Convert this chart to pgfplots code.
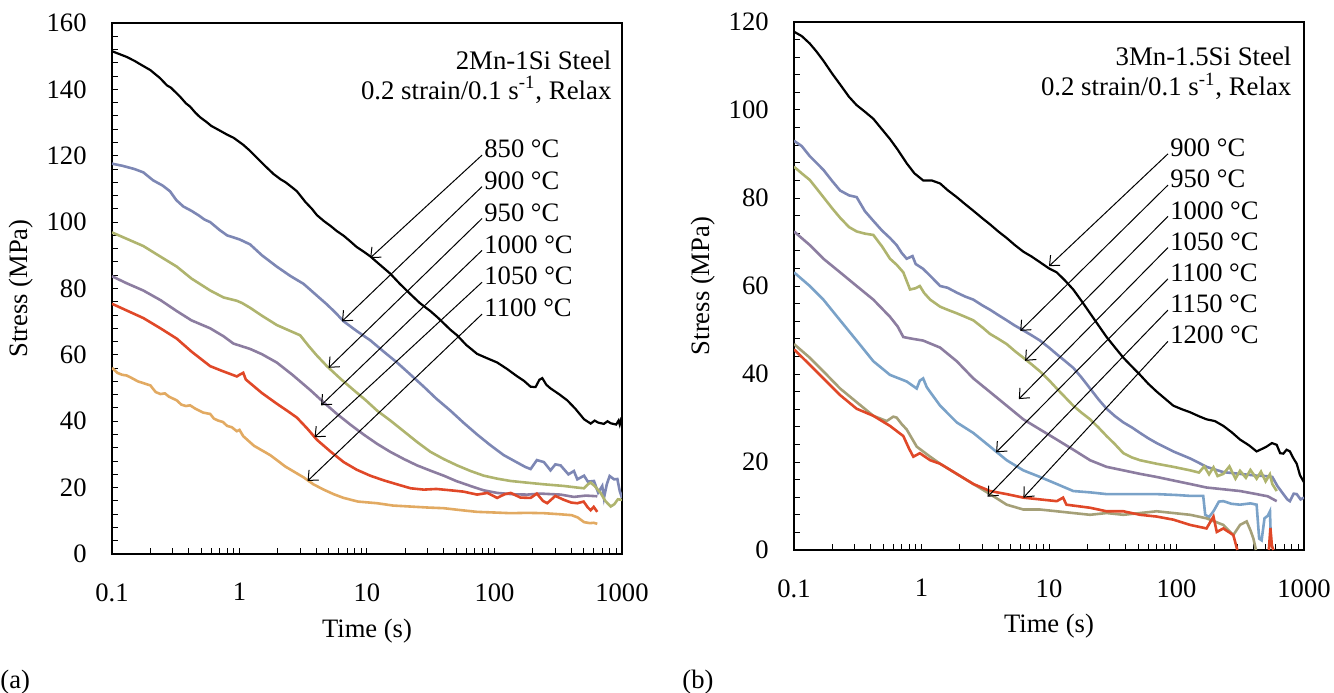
\documentclass[border=0pt]{standalone}
\usepackage{fontspec}
\setmainfont{Liberation Serif}
\usepackage{pgfplots}
\pgfplotsset{compat=1.18}
\usetikzlibrary{arrows.meta}
\definecolor{cblue}{RGB}{125,135,180}
\definecolor{colive}{RGB}{175,180,110}
\definecolor{cpurple}{RGB}{140,125,160}
\definecolor{cred}{RGB}{224,72,40}
\definecolor{ctan}{RGB}{226,170,98}
\definecolor{clblue}{RGB}{122,162,200}
\definecolor{cgreen}{RGB}{165,160,120}
\tikzset{
  tl/.style={anchor=west, inner sep=0pt, font=\fontsize{13.3}{15}\selectfont},
  ann/.style={anchor=east, inner sep=0pt, font=\fontsize{13.4}{15}\selectfont},
  arr/.style={-{Straight Barb[length=4pt,width=7pt]}, line width=0.5pt, black},
  bl/.style={black, line width=1.1pt},
  cl/.style={line width=1.3pt},
}
\begin{document}
\begin{tikzpicture}
\useasboundingbox (0,0) rectangle (667pt,346pt);
% ---------------- panel (a)
\begin{axis}[
    at={(56pt,69pt)}, anchor=south west,
    scale only axis, width=255pt, height=265.5pt,
    xmode=log, xmin=0.1, xmax=1000, ymin=0, ymax=160,
    xtick={0.1,1,10,100,1000}, xticklabels={0.1,1,10,100,1000},
    minor xtick={0.2,0.3,0.4,0.5,0.6,0.7,0.8,0.9,2,3,4,5,6,7,8,9,20,30,40,50,60,70,80,90,200,300,400,500,600,700,800,900},
    ytick={0,20,...,160}, minor y tick num=4,
    tick align=inside, xtick pos=left, ytick pos=left,
    major tick length=3pt, minor tick length=3pt,
    tick style={black, line width=0.5pt},
    axis line style={black, line width=0.6pt},
    tick label style={font=\fontsize{13.3}{15}\selectfont, inner sep=0pt},
    xticklabel style={yshift=-14.5pt},
    yticklabel style={xshift=-12.5pt},
    /pgf/number format/assume math mode=true,
    xlabel={Time (s)}, ylabel={Stress (MPa)},
    xlabel style={font=\fontsize{13.3}{15}\selectfont, at={(axis description cs:0.5,-0.145)}, anchor=center},
    ylabel style={font=\fontsize{13.3}{15}\selectfont, at={(axis description cs:-0.178,0.5)}, anchor=center},
    no markers, unbounded coords=jump]
\addplot[bl] coordinates {(0.1,151.5)(0.115,150.6)(0.13,149.8)(0.15,148.6)(0.166,147.6)(0.2,145.8)(0.238,143.4)(0.27,141.2)(0.29,140.5)(0.342,137.8)(0.38,135.8)(0.41,134.8)(0.45,133.0)(0.491,131.6)(0.55,130.2)(0.6,129)(0.7,127.6)(0.796,126.4)(0.9,125.4)(1.07,123.3)(1.2,121.6)(1.4,119)(1.6,116.8)(1.85,114.5)(2.1,112.9)(2.3,112)(2.6,110.4)(2.82,109.3)(3.3,106)(3.7,104)(4.05,102.1)(4.6,100.3)(5.2,98.8)(5.8,97.3)(6.56,95.9)(7.4,94.2)(8.3,92.5)(9.5,91)(10.6,89.7)(12.5,87.3)(15.2,84.5)(18,81.5)(21.9,78.3)(26,75.6)(31.4,73.2)(36,71.2)(40,69.5)(45,67.6)(50.9,65.9)(60,63)(73.1,60.3)(85,59.2)(105,57.7)(125,55.8)(151,53.5)(170,52.2)(192,50.4)(210,50.3)(225,52.5)(237,53.0)(255,51)(275,49.9)(320,48.2)(372,46.3)(430,43.8)(504,40.6)(568,39.3)(610,40.2)(650,39.6)(720,39.2)(770,40.0)(815,39.4)(900,39.0)(940,40.2)(960,39.0)(980,40.3)(1000,39.5)};
\addplot[cl, cblue] coordinates {(0.1,117.6)(0.12,117.0)(0.15,116.0)(0.176,115.0)(0.21,112.6)(0.25,111.0)(0.285,109.3)(0.32,106.6)(0.363,104.7)(0.42,103.4)(0.48,102.0)(0.53,100.8)(0.589,100.0)(0.7,97.6)(0.8,96.0)(0.897,95.4)(1.0,94.8)(1.21,93.3)(1.5,90.0)(1.96,86.6)(2.5,83.8)(3.18,81.4)(3.9,78.4)(4.85,75.2)(5.7,72.6)(6.56,70.1)(8.3,67.2)(10.6,64.4)(13.5,61.0)(17.2,57.7)(22,54.0)(27.9,50.4)(35,46.8)(45.1,43.2)(57,39.6)(73.1,36.0)(92,32.9)(118,29.8)(150,27.6)(175,26.2)(192,25.6)(215,28.3)(244,27.7)(275,25.2)(300,27.0)(330,26.7)(380,24.0)(420,25.0)(446,22.5)(504,23.6)(540,21.8)(603,22.0)(650,18.5)(700,20.5)(722,16.9)(760,21.0)(800,23.5)(866,22.5)(920,22.6)(960,19.0)(1000,16.9)};
\addplot[cl, colive] coordinates {(0.1,96.9)(0.13,95.0)(0.176,92.8)(0.24,89.6)(0.322,86.6)(0.42,83.0)(0.589,79.4)(0.75,77.3)(0.953,76.3)(1.05,75.6)(1.21,74.2)(1.5,71.8)(1.96,69.0)(2.5,67.2)(2.99,65.9)(3.5,62.6)(4.0,60.0)(4.85,56.6)(6.2,52.8)(7.86,49.4)(9.8,46.3)(12,43.2)(15.5,40.0)(19.4,37.0)(25,33.6)(31.4,30.8)(40,28.6)(50.9,26.7)(65,25.0)(82.4,23.6)(105,22.7)(134,22.0)(180,21.5)(244,21.0)(350,20.5)(450,20.0)(504,19.8)(540,21.0)(568,21.5)(610,20.5)(679,18.4)(740,16.0)(815,14.3)(870,15.0)(930,16.5)(1000,16.3)};
\addplot[cl, cpurple] coordinates {(0.1,83.7)(0.13,81.6)(0.176,79.4)(0.24,76.5)(0.322,73.2)(0.42,70.4)(0.589,68.0)(0.75,65.6)(0.897,63.4)(1.21,61.8)(1.5,60.2)(1.96,57.7)(2.6,54.0)(3.59,49.4)(4.6,45.6)(5.81,42.2)(7.4,39.0)(9.41,36.0)(12,33.2)(15.2,30.8)(19.5,28.6)(24.7,26.7)(32,25.0)(40,23.6)(50,22.0)(64.8,20.5)(82,19.2)(105,18.4)(140,18.0)(181,17.9)(230,18.2)(330,17.9)(420,17.2)(520,17.6)(640,17.4)};
\addplot[cl, cred] coordinates {(0.1,75.4)(0.13,73.4)(0.176,71.1)(0.24,68.0)(0.322,64.9)(0.42,61.0)(0.589,56.6)(0.75,55.0)(0.953,53.5)(1.0,54.0)(1.07,54.6)(1.12,52.6)(1.21,51.5)(1.5,48.5)(1.96,45.3)(2.4,43.0)(2.82,41.1)(3.4,37.8)(4.05,34.4)(5.2,30.8)(6.56,27.7)(8.3,25.4)(10.6,23.6)(13.5,22.2)(17.2,21.0)(22,19.8)(27.9,19.4)(35,19.6)(45.1,19.2)(57,18.8)(73.1,17.9)(88,18.4)(105,16.9)(120,18.0)(134,18.4)(160,17.0)(192,16.9)(215,18.2)(240,16.0)(259,15.3)(300,17.5)(351,16.3)(400,15.5)(446,15.3)(500,15.8)(540,14.0)(568,13.2)(600,14.2)(640,12.7)};
\addplot[cl, ctan] coordinates {(0.1,56.1)(0.11,54.6)(0.12,54.0)(0.13,53.8)(0.14,53.2)(0.16,52.0)(0.176,51.5)(0.2,50.8)(0.22,48.8)(0.24,48.2)(0.26,48.4)(0.28,47.4)(0.322,46.3)(0.35,45.0)(0.38,44.6)(0.41,44.8)(0.45,43.8)(0.52,42.6)(0.589,42.2)(0.63,40.8)(0.68,40.2)(0.74,39.8)(0.8,38.6)(0.87,38.2)(0.953,37.0)(1.0,37.4)(1.07,35.5)(1.3,32.6)(1.74,29.8)(2.3,26.3)(3.18,23.1)(3.8,21.0)(4.57,19.4)(5.5,18.0)(6.56,16.9)(8.5,15.8)(12,15.3)(16,14.6)(21.9,14.3)(30,14.0)(40,13.8)(55,13.2)(73,12.7)(100,12.5)(134,12.3)(180,12.4)(244,12.3)(320,12.0)(403,11.7)(450,11.0)(504,9.6)(560,9.3)(600,9.4)(640,9.1)};
\node[ann] at (axis description cs:0.980,0.930) {2Mn-1Si Steel};
\node[ann] at (axis description cs:0.980,0.874) {0.2 strain/0.1 s\textsuperscript{-1}, Relax};
\node[tl] (a1) at (axis cs:82.8,122.0) {850 °C};
\node[tl] (a2) at (axis cs:82.8,112.5) {900 °C};
\node[tl] (a3) at (axis cs:82.8,102.9) {950 °C};
\node[tl] (a4) at (axis cs:82.8,93.3) {1000 °C};
\node[tl] (a5) at (axis cs:82.8,83.7) {1050 °C};
\node[tl] (a6) at (axis cs:82.8,74.1) {1100 °C};
\draw[arr] ([xshift=-1pt,yshift=-3pt]a1.west) -- (axis cs:10.6,89.2);
\draw[arr] ([xshift=-1pt,yshift=-3pt]a2.west) -- (axis cs:6.37,70.1);
\draw[arr] ([xshift=-1pt,yshift=-3pt]a3.west) -- (axis cs:5.0,56.1);
\draw[arr] ([xshift=-1pt,yshift=-3pt]a4.west) -- (axis cs:4.36,44.8);
\draw[arr] ([xshift=-1pt,yshift=-3pt]a5.west) -- (axis cs:3.88,35.2);
\draw[arr] ([xshift=-1pt,yshift=-3pt]a6.west) -- (axis cs:3.42,22.0);
\end{axis}
% ---------------- panel (b)
\begin{axis}[
    at={(397pt,71pt)}, anchor=south west,
    scale only axis, width=255pt, height=264pt,
    xmode=log, xmin=0.1, xmax=1000, ymin=0, ymax=120,
    xtick={0.1,1,10,100,1000}, xticklabels={0.1,1,10,100,1000},
    minor xtick={0.2,0.3,0.4,0.5,0.6,0.7,0.8,0.9,2,3,4,5,6,7,8,9,20,30,40,50,60,70,80,90,200,300,400,500,600,700,800,900},
    ytick={0,20,...,120}, minor y tick num=4,
    tick align=inside, xtick pos=left, ytick pos=left,
    major tick length=3pt, minor tick length=3pt,
    tick style={black, line width=0.5pt},
    axis line style={black, line width=0.6pt},
    tick label style={font=\fontsize{13.3}{15}\selectfont, inner sep=0pt},
    xticklabel style={yshift=-14.5pt},
    yticklabel style={xshift=-12.5pt},
    /pgf/number format/assume math mode=true,
    xlabel={Time (s)}, ylabel={Stress (MPa)},
    xlabel style={font=\fontsize{13.3}{15}\selectfont, at={(axis description cs:0.5,-0.145)}, anchor=center},
    ylabel style={font=\fontsize{13.3}{15}\selectfont, at={(axis description cs:-0.178,0.5)}, anchor=center},
    no markers, unbounded coords=jump]
\addplot[bl] coordinates {(0.1,117.8)(0.115,116.8)(0.133,115.1)(0.15,113.3)(0.17,111.2)(0.2,108.2)(0.23,105.8)(0.27,103.0)(0.31,101.1)(0.36,99.6)(0.419,98.0)(0.49,95.6)(0.566,93.4)(0.65,91.0)(0.765,87.9)(0.88,85.6)(1.03,84.0)(1.2,84.0)(1.4,83.3)(1.6,81.8)(1.89,80.2)(2.2,78.6)(2.55,77.1)(3.0,75.4)(3.45,74.0)(4.0,72.4)(4.66,70.9)(5.4,69.3)(6.29,67.8)(7.3,66.7)(8.5,65.4)(10,64.0)(11.5,63.1)(13.3,61.3)(15.5,59.2)(18,56.6)(21,53.8)(24.5,51.0)(28.3,48.4)(33,46.0)(38.3,43.7)(45,41.6)(51.8,39.8)(60,37.8)(69.9,36.0)(82,34.3)(94.4,32.8)(110,32.0)(128,31.3)(150,30.4)(172,29.7)(200,29.3)(233,28.2)(270,26.8)(315,25.1)(370,23.8)(425,22.4)(470,23.0)(509,23.5)(560,24.3)(611,23.9)(650,22.0)(689,21.9)(730,22.8)(776,22.4)(820,21.0)(877,19.6)(930,17.0)(1000,15.4)};
\addplot[cl, cblue] coordinates {(0.1,93.0)(0.115,91.8)(0.133,89.5)(0.15,88.0)(0.17,86.4)(0.2,83.8)(0.23,81.7)(0.27,80.6)(0.31,80.2)(0.36,77.0)(0.419,74.8)(0.49,72.6)(0.566,70.9)(0.638,69.3)(0.7,67.5)(0.765,66.2)(0.85,66.8)(0.9,65.0)(1.03,63.9)(1.2,62.0)(1.4,60.0)(1.6,59.6)(1.89,58.5)(2.2,57.6)(2.55,56.9)(3.0,55.6)(3.45,54.6)(4.0,53.4)(4.66,52.2)(5.4,51.0)(6.29,49.9)(7.3,48.8)(8.5,47.6)(10,46.0)(11.5,44.5)(13.3,43.0)(15.5,41.4)(18,39.2)(21,36.7)(24.5,34.2)(28.3,32.1)(33,30.4)(38.3,29.0)(45,27.8)(51.8,26.6)(60,25.4)(69.9,24.3)(82,23.3)(94.4,22.4)(110,21.6)(128,20.8)(150,19.8)(172,18.9)(200,18.3)(233,17.7)(315,17.3)(425,16.9)(500,16.8)(564,16.6)(620,14.5)(689,12.7)(740,11.5)(776,11.1)(830,12.8)(877,12.7)(940,11.5)(1000,11.9)};
\addplot[cl, colive] coordinates {(0.1,87.1)(0.115,85.6)(0.133,84.1)(0.15,82.2)(0.17,80.2)(0.2,77.6)(0.23,75.5)(0.27,73.4)(0.31,72.4)(0.36,71.9)(0.419,71.6)(0.49,69.0)(0.566,66.2)(0.64,64.8)(0.72,63.1)(0.813,59.2)(0.9,59.5)(0.97,60.0)(1.05,58.4)(1.17,56.9)(1.4,55.3)(1.6,54.6)(1.89,53.8)(2.2,53.0)(2.55,52.2)(3.0,50.6)(3.45,49.1)(4.0,48.0)(4.66,46.8)(5.4,45.2)(6.29,43.7)(7.3,42.2)(8.5,40.6)(10,38.6)(11.5,36.7)(13.3,34.8)(15.5,32.8)(18,31.2)(21,29.7)(24.5,27.8)(28.3,25.9)(33,24.0)(38.3,22.0)(45,21.0)(51.8,20.4)(69.9,19.6)(94.4,18.9)(128,18.1)(150,17.6)(165,19.0)(180,17.2)(195,18.8)(210,16.8)(233,17.3)(260,19.0)(290,16.2)(315,18.0)(350,16.4)(380,18.2)(425,16.2)(460,17.8)(500,15.6)(540,17.2)(564,15.0)(611,13.4)};
\addplot[cl, cpurple] coordinates {(0.1,72.4)(0.133,69.3)(0.17,66.2)(0.23,63.1)(0.31,60.0)(0.419,56.9)(0.566,53.0)(0.65,50.8)(0.72,48.4)(0.85,48.0)(1.03,47.6)(1.4,46.0)(1.89,42.9)(2.55,39.0)(3.45,35.9)(4.66,32.8)(6.29,29.7)(8.5,27.4)(11.5,25.1)(15.5,22.8)(21,20.4)(28.3,18.9)(38.3,18.1)(51.8,17.3)(69.9,16.6)(94.4,15.8)(128,15.0)(172,14.2)(233,13.8)(315,13.4)(425,12.7)(520,12.2)(611,11.1)};
\addplot[cl, clblue] coordinates {(0.1,63.1)(0.133,60.0)(0.17,56.9)(0.23,52.2)(0.31,47.6)(0.419,42.9)(0.566,39.8)(0.765,38.3)(0.917,36.7)(0.97,38.5)(1.03,39.0)(1.1,37.0)(1.17,35.9)(1.4,32.8)(1.89,29.0)(2.55,26.6)(3.45,23.5)(4.66,20.4)(6.29,18.1)(8.5,16.6)(11.5,15.0)(15.5,13.4)(21,13.1)(28.3,12.7)(50,12.7)(69.9,12.7)(100,12.5)(128,12.3)(162,12.3)(168,8.0)(180,7.5)(195,8.8)(215,11.0)(233,11.1)(270,10.5)(315,10.3)(380,10.6)(425,10.3)(445,2.6)(465,2.2)(490,7.2)(520,7.8)(541,8.8)(550,1.8)(564,0.5)};
\addplot[cl, cgreen] coordinates {(0.1,46.8)(0.133,43.7)(0.17,40.6)(0.23,36.7)(0.31,33.6)(0.419,30.5)(0.533,29.3)(0.6,30.3)(0.638,30.1)(0.7,28.6)(0.765,27.4)(0.917,23.5)(1.17,21.2)(1.4,19.6)(1.89,17.3)(2.55,15.0)(3.45,12.7)(4.66,10.3)(6.29,9.2)(8.5,9.2)(11.5,8.8)(15.5,8.4)(21,8.0)(28.3,8.4)(38.3,8.0)(69.9,8.8)(128,8.0)(172,7.2)(233,5.7)(279,3.4)(315,5.7)(355,6.5)(380,4.5)(401,2.6)(420,0)};
\addplot[cl, cred] coordinates {(0.1,45.6)(0.133,42.1)(0.17,39.0)(0.23,35.2)(0.31,32.1)(0.419,30.5)(0.566,28.2)(0.72,25.9)(0.8,23.0)(0.863,21.2)(0.97,22.0)(1.17,20.4)(1.4,19.6)(1.89,17.3)(2.55,15.0)(3.45,13.4)(4.66,12.7)(6.29,11.9)(8.5,11.5)(11.5,11.1)(12.9,11.9)(13.7,10.3)(21,9.6)(28.3,8.8)(38.3,8.8)(51.8,8.0)(69.9,7.6)(94.4,6.9)(128,5.7)(172,4.9)(195,7.6)(207,4.1)(233,4.9)(279,3.4)(300,0)(400,nan)(530,0)(545,5)(560,1)(575,0)};
\node[ann] at (axis description cs:0.976,0.934) {3Mn-1.5Si Steel};
\node[ann] at (axis description cs:0.976,0.878) {0.2 strain/0.1 s\textsuperscript{-1}, Relax};
\node[tl] (b1) at (axis cs:88.9,91.4) {900 °C};
\node[tl] (b2) at (axis cs:88.9,84.3) {950 °C};
\node[tl] (b3) at (axis cs:88.9,77.2) {1000 °C};
\node[tl] (b4) at (axis cs:88.9,70.1) {1050 °C};
\node[tl] (b5) at (axis cs:88.9,63.0) {1100 °C};
\node[tl] (b6) at (axis cs:88.9,55.9) {1150 °C};
\node[tl] (b7) at (axis cs:88.9,48.8) {1200 °C};
\draw[arr] ([xshift=-1pt,yshift=-3pt]b1.west) -- (axis cs:10.0,64.5);
\draw[arr] ([xshift=-1pt,yshift=-3pt]b2.west) -- (axis cs:5.95,49.8);
\draw[arr] ([xshift=-1pt,yshift=-3pt]b3.west) -- (axis cs:6.5,43.0);
\draw[arr] ([xshift=-1pt,yshift=-3pt]b4.west) -- (axis cs:5.8,34.3);
\draw[arr] ([xshift=-1pt,yshift=-3pt]b5.west) -- (axis cs:3.85,22.2);
\draw[arr] ([xshift=-1pt,yshift=-3pt]b6.west) -- (axis cs:3.3,12.1);
\draw[arr] ([xshift=-1pt,yshift=-3pt]b7.west) -- (axis cs:6.3,11.9);
\end{axis}
\node[anchor=west, inner sep=0pt, font=\fontsize{13.3}{15}\selectfont] at (0pt,5pt) {(a)};
\node[anchor=west, inner sep=0pt, font=\fontsize{13.3}{15}\selectfont] at (341pt,5pt) {(b)};
\end{tikzpicture}
\end{document}
